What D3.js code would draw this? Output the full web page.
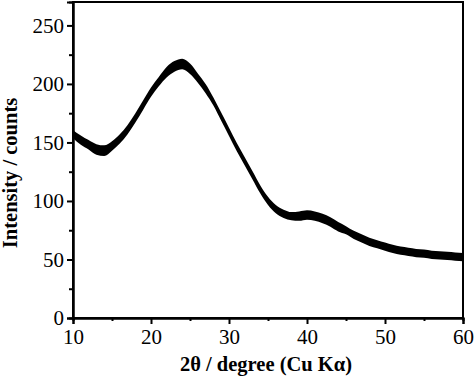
<!DOCTYPE html>
<html>
<head>
<meta charset="utf-8">
<script src="https://cdn.jsdelivr.net/npm/d3@7"></script>
<style>
  html, body { margin: 0; padding: 0; background: #fff; }
  svg { display: block; }
</style>
</head>
<body>
<svg id="chart" width="474" height="379"></svg>
<script>
// 2θ positions (degrees)
const twoTheta = [10,11,12,13,14,15,16,17,18,19,20,21,22,23,24,25,26,27,28,29,30,
  31,32,33,34,35,36,37,38,39,40,41,42,43,44,45,46,47,48,49,50,
  51,52,53,54,55,56,57,58,59,60];
// mean intensity (counts)
const intensity = [157,152,148,144,143,147,153,161,171,182,193,202,210,215,217,213,205,196,185,172,159,
  146,134,122,110,100,93,89,87,87,88,87,85,82,78,75,71,68,65,63,61,
  59,57.5,56.5,55.5,55,54,53.5,53,52.5,52];
// half-width of the noise band (counts)
const noise = [3.5,4,4,4.5,4.5,4,4,4,4,4,4,4,4.5,4.5,4.5,4.5,4,4,3.5,3.5,3.5,
  3.5,3.5,3.5,3.5,3.5,3.5,3.5,3.5,4,4,4,4,4,4,3.5,3.5,3.5,3.5,3.5,3.5,
  3.5,3.5,3.5,3.5,3.5,3.5,3.5,3.5,3.5,3.5];
const xTicks = [10,20,30,40,50,60];
const yTicks = [0,50,100,150,200,250];
const xMinor = [15,25,35,45,55];
const yMinor = [25,75,125,175,225];

const FONT = "Liberation Serif, DejaVu Serif, serif";
const svg = d3.select("#chart");
const L = 73, R = 463, T = 2, B = 318;
const x = d3.scaleLinear().domain([10, 60]).range([L, R]);
const y = d3.scaleLinear().domain([0, 270]).range([B, T]);

const data = twoTheta.map((t, i) => ({t, v: intensity[i], n: noise[i]}));

// noise band
svg.append("path")
  .datum(data)
  .attr("fill", "#000")
  .attr("d", d3.area().curve(d3.curveMonotoneX)
    .x(d => x(d.t)).y0(d => y(d.v - d.n)).y1(d => y(d.v + d.n)));
svg.append("path")
  .datum(data)
  .attr("fill", "none").attr("stroke", "#000").attr("stroke-width", 2)
  .attr("d", d3.line().curve(d3.curveMonotoneX).x(d => x(d.t)).y(d => y(d.v)));

// frame
svg.append("rect").attr("x", L).attr("y", T).attr("width", R - L).attr("height", B - T)
  .attr("fill", "none").attr("stroke", "#000").attr("stroke-width", 2);

// axes
const xAxis = svg.append("g").attr("transform", `translate(0,${B})`)
  .call(d3.axisBottom(x).tickValues(xTicks).tickSize(6).tickPadding(5).tickFormat(d3.format("d")));
const xAxisMinor = svg.append("g").attr("transform", `translate(0,${B})`)
  .call(d3.axisBottom(x).tickValues(xMinor).tickSize(3).tickFormat(""));
const yAxis = svg.append("g").attr("transform", `translate(${L},0)`)
  .call(d3.axisLeft(y).tickValues(yTicks).tickSize(6).tickPadding(3).tickFormat(d3.format("d")));
const yAxisMinor = svg.append("g").attr("transform", `translate(${L},0)`)
  .call(d3.axisLeft(y).tickValues(yMinor).tickSize(4).tickFormat(""));

[xAxis, xAxisMinor, yAxis, yAxisMinor].forEach(g => {
  g.attr("font-family", FONT).attr("font-size", 21);
  g.select(".domain").attr("stroke", "#000").attr("stroke-width", 2);
  g.selectAll(".tick line").attr("stroke", "#000").attr("stroke-width", 2);
  g.selectAll(".tick text").attr("font-family", FONT).attr("font-size", 21).attr("fill", "#000");
});

// titles
svg.append("text").attr("x", 266).attr("y", 371).attr("text-anchor", "middle")
  .attr("font-family", FONT).attr("font-size", 20.5).attr("font-weight", "bold")
  .attr("fill", "#000").text("2θ / degree (Cu Kα)");
svg.append("text").attr("transform", "translate(17,173) rotate(-90)")
  .attr("text-anchor", "middle")
  .attr("font-family", FONT).attr("font-size", 20.5).attr("font-weight", "bold")
  .attr("fill", "#000").text("Intensity / counts");
</script>
</body>
</html>
